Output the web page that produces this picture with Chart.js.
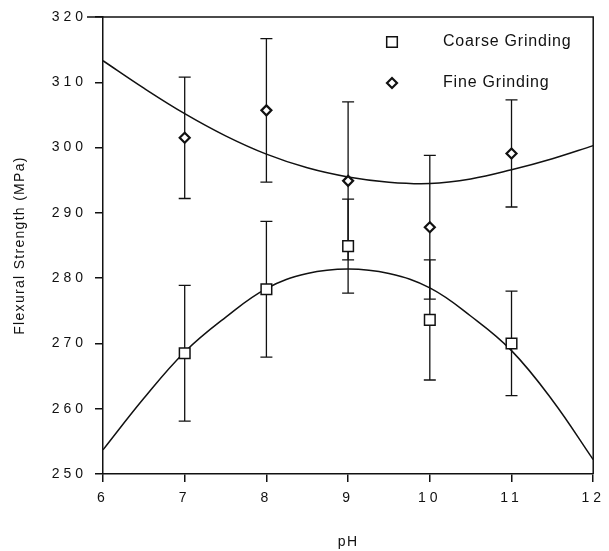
<!DOCTYPE html>
<html>
<head>
<meta charset="utf-8">
<script src="https://cdn.jsdelivr.net/npm/chart.js@4.4.1/dist/chart.umd.min.js"></script>
<style>
  html, body { margin: 0; padding: 0; background: #fff; }
  #wrap { width: 609px; height: 551px; }
</style>
</head>
<body>
<div id="wrap"><canvas id="chart" width="609" height="551"></canvas></div>
<script>
// measured points (mean and +/- error)
const phValues = [7, 8, 9, 10, 11]
const coarseMean = [268.5, 278.3, 284.9, 273.6, 270.0]
const coarseErr = [10.4, 10.4, 7.2, 9.2, 8.0]
const fineMean = [301.5, 305.7, 294.9, 287.8, 299.1]
const fineErr = [9.3, 11.0, 12.1, 11.0, 8.2]

// fitted curves
const curvePh = [6, 6.5, 7, 7.5, 8, 8.5, 9, 9.5, 10, 10.5, 11, 11.5, 12]
const coarseFit = [253.7, 261.6, 268.7, 274.0, 278.4, 280.7, 281.4, 280.7, 278.5, 274.2, 268.9, 261.3, 252.2]
const fineFit = [313.3, 309.1, 305.2, 301.8, 299.0, 296.9, 295.5, 294.7, 294.5, 295.2, 296.6, 298.3, 300.3]

const xTicks = [6, 7, 8, 9, 10, 11, 12]
const yTicks = [250, 260, 270, 280, 290, 300, 310, 320]

const FONT = '"Liberation Sans", Arial, sans-serif'
const toXY = (xs, ys) => xs.map((x, i) => ({ x: x, y: ys[i] }))

const errorBars = {
  id: 'errorBars',
  beforeDatasetsDraw(chart) {
    const ctx = chart.ctx
    const xs = chart.scales.x, ys = chart.scales.y
    ctx.save()
    ctx.strokeStyle = '#111'
    ctx.lineWidth = 1.3
    chart.data.datasets.forEach(ds => {
      if (!ds.errors) return
      ds.data.forEach((p, i) => {
        const px = xs.getPixelForValue(p.x)
        const top = ys.getPixelForValue(p.y + ds.errors[i])
        const bot = ys.getPixelForValue(p.y - ds.errors[i])
        ctx.beginPath()
        ctx.moveTo(px, top); ctx.lineTo(px, bot)
        ctx.moveTo(px - 6, top); ctx.lineTo(px + 6, top)
        ctx.moveTo(px - 6, bot); ctx.lineTo(px + 6, bot)
        ctx.stroke()
      })
    })
    ctx.restore()
  },
  // tick labels (z: 1) are drawn after this, with wide spacing
  afterDatasetsDraw(chart) {
    chart.ctx.letterSpacing = '4px'
  }
}

const frame = {
  id: 'frame',
  beforeDraw(chart) {
    chart.ctx.letterSpacing = '1.3px'
  },
  afterDraw(chart) {
    const a = chart.chartArea, ctx = chart.ctx
    ctx.save()
    ctx.strokeStyle = '#111'
    ctx.lineWidth = 1.5
    ctx.beginPath()
    ctx.moveTo(a.left - 16, a.top); ctx.lineTo(a.right, a.top); ctx.lineTo(a.right, a.bottom)
    ctx.stroke()

    // legend inside the plot, top right
    ctx.letterSpacing = '0.8px'
    ctx.font = '16px ' + FONT
    ctx.textBaseline = 'middle'
    chart.data.datasets.slice(0, 2).forEach((ds, i) => {
      const y = a.top + 25 + i * 41
      ctx.fillStyle = '#fff'
      ctx.strokeStyle = '#111'
      ctx.lineWidth = ds.borderWidth
      Chart.helpers.drawPoint(ctx, {
        pointStyle: ds.pointStyle, radius: ds.pointRadius, rotation: 0,
        borderWidth: ds.borderWidth
      }, 392, y)
      ctx.fillStyle = '#111'
      ctx.fillText(ds.label, 443, y)
    })
    ctx.restore()
    ctx.letterSpacing = '0px'
  }
}

new Chart(document.getElementById('chart'), {
  type: 'scatter',
  data: {
    datasets: [
      {
        label: 'Coarse Grinding',
        data: toXY(phValues, coarseMean),
        errors: coarseErr,
        pointStyle: 'rect',
        pointRadius: 7.5,
        borderWidth: 1.5,
        borderColor: '#111',
        backgroundColor: '#fff'
      },
      {
        label: 'Fine Grinding',
        data: toXY(phValues, fineMean),
        errors: fineErr,
        pointStyle: 'rectRot',
        pointRadius: 5,
        borderWidth: 2.2,
        borderColor: '#111',
        backgroundColor: '#fff'
      },
      {
        label: 'coarse fit',
        type: 'line',
        data: toXY(curvePh, coarseFit),
        showLine: true,
        pointRadius: 0,
        tension: 0.4,
        borderColor: '#111',
        borderWidth: 1.5
      },
      {
        label: 'fine fit',
        type: 'line',
        data: toXY(curvePh, fineFit),
        showLine: true,
        pointRadius: 0,
        tension: 0.4,
        borderColor: '#111',
        borderWidth: 1.5
      }
    ]
  },
  options: {
    responsive: false,
    animation: false,
    layout: { padding: { top: 17, right: 13, left: 0, bottom: 0 } },
    plugins: { legend: { display: false }, tooltip: { enabled: false } },
    scales: {
      x: {
        type: 'linear',
        min: 6, max: 12,
        afterBuildTicks: s => { s.ticks = xTicks.map(v => ({ value: v })) },
        afterFit: s => { s.height = 77 },
        grid: { display: true, drawOnChartArea: false, drawTicks: true, tickLength: 8, color: '#111', lineWidth: 1.5 },
        border: { display: true, color: '#111', width: 1.5 },
        ticks: { z: 1, color: '#111', padding: 8, font: { family: FONT, size: 14 } },
        title: { display: true, text: 'pH', color: '#111', padding: { top: 0, bottom: 0 },
          font: { family: FONT, size: 14 } }
      },
      y: {
        min: 250, max: 320,
        afterBuildTicks: s => { s.ticks = yTicks.map(v => ({ value: v })) },
        afterFit: s => { s.width = 103 },
        grid: { display: true, drawOnChartArea: false, drawTicks: true, tickLength: 8, color: '#111', lineWidth: 1.5 },
        border: { display: true, color: '#111', width: 1.5 },
        ticks: { z: 1, color: '#111', padding: 8, font: { family: FONT, size: 14 } },
        title: { display: true, text: 'Flexural Strength (MPa)', color: '#111', padding: { top: 12, bottom: 0 },
          font: { family: FONT, size: 14 } }
      }
    }
  },
  plugins: [errorBars, frame]
})
</script>
</body>
</html>
